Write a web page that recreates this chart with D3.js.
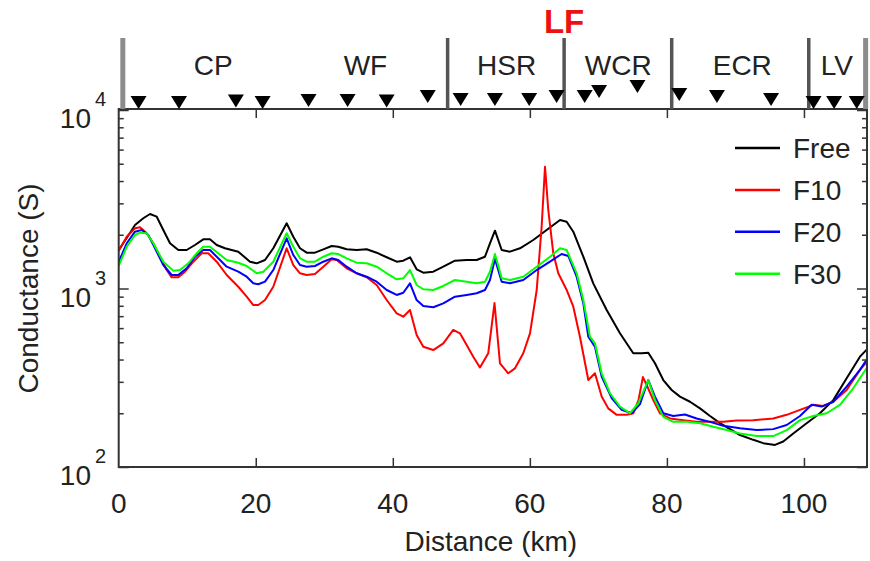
<!DOCTYPE html>
<html>
<head>
<meta charset="utf-8">
<script src="https://cdn.jsdelivr.net/npm/d3@7"></script>
<style>
  html, body { margin: 0; padding: 0; background: #fff; }
  svg text { font-family: "Liberation Sans", Arial, Helvetica, sans-serif; fill: #222; }
</style>
</head>
<body>
<svg id="chart" width="870" height="561"></svg>
<script>
// D3 v7
// conductance profiles, [distance km, conductance S]
const freeData = [[0,1643],[1.17,1919],[2.38,2269],[3.59,2474],[4.57,2615],[5.55,2525],[6.51,2127],[7.49,1792],[8.70,1643],[9.92,1643],[11.13,1753],[12.34,1886],[13.32,1886],[14.30,1753],[15.51,1680],[17.45,1608],[19.16,1413],[20.14,1384],[21.35,1444],[22.56,1680],[24.51,2319],[25.48,1951],[26.46,1680],[27.43,1587],[28.64,1587],[29.86,1658],[31.08,1730],[32.04,1715],[33.27,1658],[34.73,1643],[36.19,1658],[37.65,1587],[39.11,1496],[40.57,1413],[41.53,1431],[42.51,1496],[43.48,1281],[44.45,1226],[45.91,1242],[47.37,1325],[49.07,1431],[50.78,1444],[52.24,1444],[53.45,1507],[54.18,1792],[54.91,2108],[55.89,1643],[57.10,1608],[58.56,1680],[60.50,1869],[62.45,2127],[64.40,2420],[65.37,2367],[66.34,2081],[67.80,1507],[69.25,1069],[71.21,758],[73.15,561],[75.09,434],[76.32,434],[77.28,437],[78.26,381],[79.47,307],[80.69,270],[81.91,248],[83.37,232],[84.83,213],[86.29,193],[87.75,176],[89.21,163],[90.67,151],[92.60,142],[94.06,136],[95.77,133],[96.98,139],[98.44,154],[100.39,176],[102.33,200],[104.28,237],[106.23,314],[108.17,415],[109.19,456]];

const f10Data = [[0,1622],[1.17,1951],[2.38,2174],[3.11,2202],[4.09,2039],[5.05,1792],[6.03,1507],[7.00,1269],[7.73,1155],[8.70,1155],[9.67,1242],[10.89,1413],[12.11,1575],[13.07,1575],[14.30,1413],[15.76,1190],[17.45,1023],[18.68,900],[19.64,808],[20.37,808],[21.35,862],[22.56,1023],[24.51,1680],[25.48,1354],[26.46,1217],[27.43,1190],[28.64,1206],[29.86,1325],[31.08,1457],[31.81,1444],[33.27,1298],[34.73,1217],[36.19,1155],[37.65,1046],[39.11,862],[40.57,726],[41.53,695],[42.51,758],[43.48,549],[44.45,472],[45.91,452],[47.37,493],[48.82,586],[49.80,561],[50.78,483],[51.74,415],[52.72,361],[53.93,434],[54.84,829],[55.64,381],[56.85,335],[57.83,357],[59.04,434],[60.02,561],[61.00,981],[61.72,2219],[62.21,4813],[62.69,2754],[63.42,1575],[64.15,1217],[65.37,981],[66.34,791],[67.31,537],[68.53,307],[69.50,335],[70.48,248],[71.44,213],[72.67,196],[74.13,196],[75.09,200],[75.85,237],[76.50,319],[77.05,288],[78.01,237],[78.99,200],[80.45,187],[82.39,183],[84.34,179],[86.29,179],[88.22,179],[90.18,182],[92.60,183],[95.52,187],[97.48,196],[99.42,209],[101.36,223],[102.82,220],[104.28,232],[106.23,270],[108.17,350],[109.19,388]];

const f20Data = [[0,1408],[1.17,1792],[2.38,2081],[3.36,2127],[4.32,1994],[5.30,1680],[6.51,1354],[7.73,1190],[8.70,1190],[9.92,1298],[11.13,1507],[12.34,1643],[13.32,1643],[14.53,1476],[15.76,1325],[17.45,1242],[18.68,1164],[19.64,1069],[20.37,1056],[21.35,1092],[22.56,1269],[24.51,1911],[25.48,1540],[26.46,1354],[27.43,1325],[28.64,1337],[29.86,1413],[31.08,1476],[32.04,1444],[33.27,1325],[34.73,1217],[36.19,1164],[37.65,1092],[39.11,981],[40.57,920],[41.53,947],[42.51,1069],[43.48,862],[44.45,798],[45.91,785],[47.37,826],[49.07,900],[50.78,920],[52.24,940],[53.45,981],[54.18,1116],[54.91,1463],[55.89,1092],[57.10,1069],[59.04,1116],[61.00,1269],[62.94,1413],[64.64,1560],[65.61,1521],[66.83,1164],[67.80,826],[68.53,537],[69.50,472],[70.48,321],[71.94,243],[73.40,209],[74.86,200],[76.07,225],[77.28,307],[78.26,248],[79.47,200],[80.93,193],[82.63,197],[84.34,187],[86.29,179],[88.22,170],[90.66,165],[93.10,161],[95.52,163],[97.48,172],[99.42,193],[101.12,223],[102.58,218],[104.28,232],[106.23,282],[108.17,350],[109.19,401]];

const f30Data = [[0,1337],[1.17,1715],[2.38,1994],[3.11,2054],[4.09,2039],[5.05,1792],[6.51,1413],[7.97,1258],[8.94,1269],[10.16,1384],[11.38,1575],[12.34,1715],[13.32,1715],[14.53,1575],[15.76,1444],[17.45,1395],[18.68,1337],[20.14,1217],[21.10,1242],[22.56,1413],[24.51,2039],[25.48,1715],[26.46,1476],[27.43,1413],[28.64,1413],[29.86,1507],[31.08,1575],[32.04,1560],[33.27,1476],[34.73,1395],[36.19,1384],[37.65,1325],[39.11,1217],[40.57,1126],[41.53,1141],[42.51,1269],[43.48,1046],[44.45,990],[45.91,981],[47.37,1033],[49.07,1116],[50.78,1092],[52.24,1069],[53.45,1092],[54.18,1242],[54.91,1560],[55.89,1141],[57.10,1116],[59.04,1164],[61.00,1325],[62.94,1507],[64.40,1680],[65.37,1643],[66.83,1217],[67.80,862],[68.77,537],[69.50,493],[70.48,335],[71.69,259],[73.15,218],[74.61,200],[75.82,227],[77.28,307],[78.26,237],[79.47,191],[80.93,179],[82.88,179],[84.83,176],[86.77,168],[88.72,161],[90.66,154],[93.10,149],[95.52,149],[97.48,161],[99.42,183],[101.36,193],[103.31,200],[105.25,223],[107.19,276],[108.65,335],[109.19,359]];

const seriesNames = ['Free', 'F10', 'F20', 'F30'];
const seriesColors = ['#000000', '#ff0000', '#0000ff', '#00ff00'];

// stations along the profile (km) and their relative elevation
const stationKm = [2.9, 8.8, 17.1, 21.0, 27.7, 33.4, 39.1, 45.1, 49.9, 54.9, 59.9, 63.9, 68.0, 70.1, 75.7, 81.8, 87.3, 95.2, 101.4, 104.4, 107.7];
const stationElev = [0, 0, 1.5, 0, 2, 2, 1.5, 6, 3, 3, 3, 6, 6, 11, 16, 8, 6, 3, 0, 0, 0];

// geological zones
const zoneNames = ['CP', 'WF', 'HSR', 'WCR', 'ECR', 'LV'];
const zoneLabelKm = [13.8, 36.0, 56.6, 72.9, 91.0, 104.8];
const zoneBounds = [0.6, 48.0, 65.0, 80.7, 100.7, 109.0];
const faultKm = 65.0;

const xTicks = [0, 20, 40, 60, 80, 100];
const yTicks = [100, 1000, 10000];

const svg = d3.select('#chart');
const L = 118.7, R = 867, T = 109, B = 467;

const x = d3.scaleLinear().domain([0, 109.2]).range([L, R]);
const y = d3.scaleLog().domain([100, 10000]).range([B, 110]);
const lift = d3.scaleLinear().domain([0, 16]).range([0, 16]);

const axisColor = '#333';

// clip for curves
svg.append('defs').append('clipPath').attr('id', 'plotclip')
  .append('rect').attr('x', L).attr('y', T).attr('width', R - L).attr('height', B - T);

// curves
const line = d3.line().x(d => x(d[0])).y(d => y(d[1]));
const allSeries = [freeData, f10Data, f20Data, f30Data];
svg.append('g').attr('clip-path', 'url(#plotclip)')
  .selectAll('path').data(allSeries).join('path')
  .attr('d', line)
  .attr('fill', 'none')
  .attr('stroke', (d, i) => seriesColors[i])
  .attr('stroke-width', 2)
  .attr('stroke-linejoin', 'round');

// frame + ticks
const minor = [];
[100, 1000].forEach(dec => { for (let k = 2; k <= 9; k++) minor.push(dec * k); });

function styleAxis(g){
  g.select('.domain').remove();
  g.selectAll('line').attr('stroke', axisColor).attr('stroke-width', 1.5);
}
svg.append('g').attr('transform', `translate(${L},0)`)
  .call(d3.axisLeft(y).tickValues(yTicks).tickSize(-10).tickFormat('')).call(styleAxis);
svg.append('g').attr('transform', `translate(${L},0)`)
  .call(d3.axisLeft(y).tickValues(minor).tickSize(-5).tickFormat('')).call(styleAxis);
svg.append('g').attr('transform', `translate(${R},0)`)
  .call(d3.axisRight(y).tickValues(yTicks).tickSize(-10).tickFormat('')).call(styleAxis);
svg.append('g').attr('transform', `translate(${R},0)`)
  .call(d3.axisRight(y).tickValues(minor).tickSize(-5).tickFormat('')).call(styleAxis);
svg.append('g').attr('transform', `translate(0,${B})`)
  .call(d3.axisBottom(x).tickValues(xTicks.slice(1)).tickSize(-9).tickFormat('')).call(styleAxis);
svg.append('g').attr('transform', `translate(0,${T})`)
  .call(d3.axisTop(x).tickValues(xTicks.slice(1)).tickSize(-9).tickFormat('')).call(styleAxis);

svg.append('rect').attr('x', L).attr('y', T).attr('width', R - L).attr('height', B - T)
  .attr('fill', 'none').attr('stroke', axisColor).attr('stroke-width', 2);

// x tick labels
svg.selectAll('text.xt').data(xTicks).join('text')
  .attr('class', 'xt')
  .attr('x', d => x(d)).attr('y', 513)
  .attr('text-anchor', 'middle').attr('font-size', 28)
  .text(d => d);

// y tick labels 10^n
const yl = svg.selectAll('g.yt').data(yTicks).join('g').attr('class', 'yt');
yl.append('text')
  .attr('x', 91).attr('y', d => y(d) + 18)
  .attr('text-anchor', 'end').attr('font-size', 28)
  .text('10');
yl.append('text')
  .attr('x', 95).attr('y', d => y(d) - 4)
  .attr('font-size', 20)
  .text(d => Math.round(Math.log10(d)));

// axis titles
svg.append('text')
  .attr('x', x(54.6) - 2).attr('y', 551)
  .attr('text-anchor', 'middle').attr('font-size', 28)
  .text('Distance (km)');
svg.append('text')
  .attr('transform', `translate(38,${y(1000)}) rotate(-90)`)
  .attr('text-anchor', 'middle').attr('font-size', 28)
  .text('Conductance (S)');

// top band: zone boundaries
svg.selectAll('line.zb').data(zoneBounds).join('line')
  .attr('class', 'zb')
  .attr('x1', d => x(d)).attr('x2', d => x(d))
  .attr('y1', 38).attr('y2', T)
  .attr('stroke', (d, i) => (i === 0 || i === zoneBounds.length - 1) ? '#8c8c8c' : '#555')
  .attr('stroke-width', (d, i) => (i === 0 || i === zoneBounds.length - 1) ? 5 : 3.5);

svg.selectAll('text.zn').data(zoneNames).join('text')
  .attr('class', 'zn')
  .attr('x', (d, i) => x(zoneLabelKm[i])).attr('y', 75)
  .attr('text-anchor', 'middle').attr('font-size', 28)
  .text(d => d);

svg.append('text')
  .attr('x', x(faultKm)).attr('y', 33)
  .attr('text-anchor', 'middle').attr('font-size', 33).attr('font-weight', 'bold')
  .style('fill', '#ee1111')
  .text('LF');

// stations: inverted triangles
const tw = 8, th = 13;
svg.selectAll('path.st').data(stationKm).join('path')
  .attr('class', 'st')
  .attr('d', (d, i) => {
    const cx = x(d), tip = T - lift(stationElev[i]);
    return `M${cx - tw},${tip - th}L${cx + tw},${tip - th}L${cx},${tip}Z`;
  })
  .attr('fill', '#000');

// legend
const lg = svg.append('g');
const lgItems = lg.selectAll('g').data(seriesNames).join('g')
  .attr('transform', (d, i) => `translate(735,${148 + i * 41.9})`);
lgItems.append('line')
  .attr('x1', 0).attr('x2', 45)
  .attr('stroke', (d, i) => seriesColors[i]).attr('stroke-width', 2.5);
lgItems.append('text')
  .attr('x', 58).attr('y', 10).attr('font-size', 28)
  .text(d => d);
</script>
</body>
</html>
